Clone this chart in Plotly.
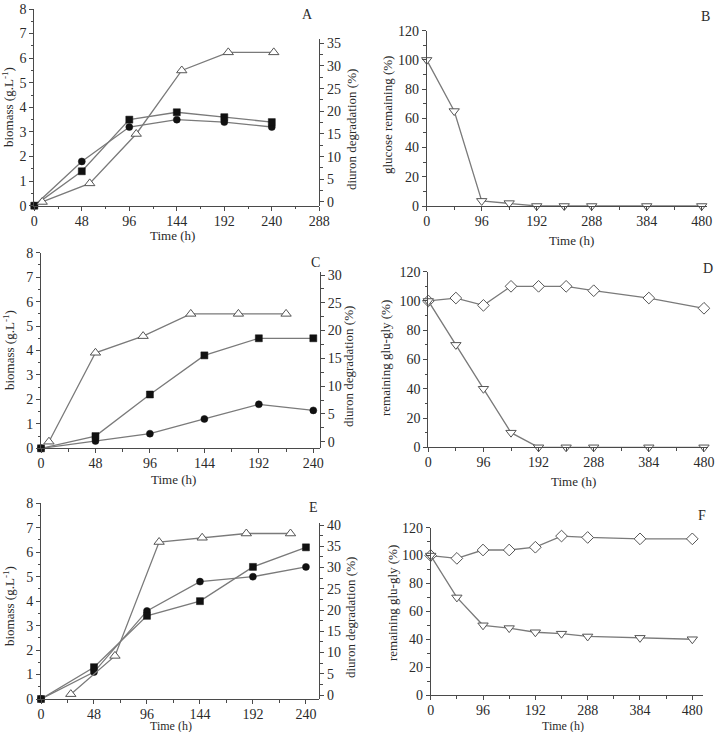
import plotly.graph_objects as go

# ---------------- data ----------------
t6 = [0, 48, 96, 144, 192, 240]
t9 = [0, 48, 96, 144, 192, 240, 288, 384, 480]

# Panel A
A_circle = [0, 1.8, 3.2, 3.5, 3.4, 3.2]
A_square = [0, 1.4, 3.5, 3.8, 3.6, 3.4]
A_tri_time = [8, 56, 103, 149, 196, 242]
A_tri = [0, 4.1, 15, 29, 33, 33]

# Panel B
B_glucose = [100, 65, 3.5, 2, 0, 0, 0, 0, 0]

# Panel C
C_square = [0, 0.5, 2.2, 3.8, 4.5, 4.5]
C_circle = [0, 0.3, 0.6, 1.2, 1.8, 1.55]
C_tri_time = [7, 48, 90, 132, 174, 216]
C_tri = [0, 16, 19, 23, 23, 23]

# Panel D
D_diamond = [100, 102, 97, 110, 110, 110, 107, 102, 95]
D_tri = [100, 70, 40, 10, 0, 0, 0, 0, 0]

# Panel E
E_square = [0, 1.3, 3.4, 4.0, 5.4, 6.2]
E_circle = [0, 1.1, 3.6, 4.8, 5.0, 5.4]
E_tri_time = [27, 67, 107, 146, 186, 226]
E_tri = [0.2, 9.2, 36, 37, 38, 38]

# Panel F
F_diamond = [100, 98, 104, 104, 106, 114, 113, 112, 112]
F_tri = [100, 70, 50, 48, 45, 44, 42, 41, 40]

# ---------------- style ----------------
W, H = 717, 732
FONT = "Liberation Serif"
LINE = "#7a7a7a"
AX = "#4a4a4a"
TXT = "#2a2a2a"


def fx(px):
    return px / W


def fy(py):
    return 1 - py / H


fig = go.Figure()


def add(x, y, xa, ya, symbol, filled, size):
    if filled:
        marker = dict(symbol=symbol, size=size, color="#111111",
                      line=dict(color="#111111", width=0.5))
    else:
        marker = dict(symbol=symbol, size=size, color="white",
                      line=dict(color="#555555", width=1))
    fig.add_trace(go.Scatter(x=x, y=y, xaxis=xa, yaxis=ya, mode="lines+markers",
                             line=dict(color=LINE, width=1.3), marker=marker,
                             cliponaxis=False, showlegend=False, hoverinfo="skip"))


# A
add(t6, A_circle, "x", "y", "circle", True, 7)
add(t6, A_square, "x", "y", "square", True, 7)
add(A_tri_time, A_tri, "x", "y7", "triangle-up", False, 9)
# B
add(t9, B_glucose, "x2", "y2", "triangle-down", False, 9)
# C
add(t6, C_circle, "x3", "y3", "circle", True, 7)
add(t6, C_square, "x3", "y3", "square", True, 7)
add(C_tri_time, C_tri, "x3", "y8", "triangle-up", False, 9)
# D
add(t9, D_diamond, "x4", "y4", "diamond", False, 9)
add(t9, D_tri, "x4", "y4", "triangle-down", False, 9)
# E
add(t6, E_circle, "x5", "y5", "circle", True, 7)
add(t6, E_square, "x5", "y5", "square", True, 7)
add(E_tri_time, E_tri, "x5", "y9", "triangle-up", False, 9)
# F
add(t9, F_diamond, "x6", "y6", "diamond", False, 9)
add(t9, F_tri, "x6", "y6", "triangle-down", False, 9)


def axis_common(dtick, minor, **kw):
    d = dict(showline=True, linecolor=AX, linewidth=1, showgrid=False, zeroline=False,
             ticks="outside", ticklen=4, tickwidth=1, tickcolor=AX,
             tickfont=dict(family=FONT, size=14, color=TXT), dtick=dtick, tick0=0,
             minor=dict(ticks="outside", ticklen=2.5, tickwidth=1, tickcolor=AX, dtick=minor),
             fixedrange=True, automargin=False)
    d.update(kw)
    return d


def xaxis(dtick, minor, **kw):
    return axis_common(dtick, minor, ticklabelstandoff=-2, **kw)


lay = {}
# A
lay["xaxis"] = xaxis(48, 24, domain=[fx(34.3), fx(319.3)], range=[0, 288], anchor="y")
lay["yaxis"] = axis_common(1, 0.5, domain=[fy(205.7), fy(9)], range=[0, 8], anchor="x")
lay["yaxis7"] = axis_common(5, 2.5, domain=[fy(205.7), fy(39.3)], range=[-0.82, 35.88],
                            anchor="x", side="right")
# B
lay["xaxis2"] = xaxis(96, 48, domain=[fx(426.7), fx(706.7)], range=[0, 488.7], anchor="y2")
lay["yaxis2"] = axis_common(20, 10, domain=[fy(206), fy(30.7)], range=[0, 120], anchor="x2")
# C
lay["xaxis3"] = xaxis(48, 24, domain=[fx(41), fx(320)], range=[0, 245.9], anchor="y3")
lay["yaxis3"] = axis_common(1, 0.5, domain=[fy(448.3), fy(252.7)], range=[0, 8], anchor="x3")
lay["yaxis8"] = axis_common(5, 2.5, domain=[fy(448.3), fy(272)], range=[-1.19, 30.54],
                            anchor="x3", side="right")
# D
lay["xaxis4"] = xaxis(96, 48, domain=[fx(428.3), fx(708)], range=[0, 487], anchor="y4")
lay["yaxis4"] = axis_common(20, 10, domain=[fy(447.3), fy(271.7)], range=[0, 120], anchor="x4")
# E
lay["xaxis5"] = xaxis(48, 24, domain=[fx(41), fx(319.3)], range=[0, 252.1], anchor="y5")
lay["yaxis5"] = axis_common(1, 0.5, domain=[fy(699), fy(503.3)], range=[0, 8], anchor="x5")
lay["yaxis9"] = axis_common(5, 2.5, domain=[fy(699), fy(523)], range=[-0.94, 40.47],
                            anchor="x5", side="right")
# F
lay["xaxis6"] = xaxis(96, 48, domain=[fx(430.7), fx(703)], range=[0, 499.6], anchor="y6")
lay["yaxis6"] = axis_common(20, 10, domain=[fy(695), fy(527.7)], range=[0, 120], anchor="x6")

fig.update_layout(**lay)

ann = []


def text(s, px, py, size=13, angle=0):
    ann.append(dict(text=s, x=fx(px), y=fy(py), xref="paper", yref="paper",
                    showarrow=False, textangle=angle, xanchor="center", yanchor="middle",
                    font=dict(family=FONT, size=size, color=TXT)))


# panel letters
text("A", 307, 15, 14)
text("B", 705, 16, 14)
text("C", 315, 262, 14)
text("D", 708, 268, 14)
text("E", 313, 507, 14)
text("F", 702, 515, 14)

# x titles
text("Time (h)", 172, 235)
text("Time (h)", 571, 241)
text("Time (h)", 173, 480)
text("Time (h)", 573, 481)
text("Time (h)", 171, 726, 12)
text("Time (h)", 563, 726, 12)

# left y titles
bio = "biomass (g.L<sup>-1</sup>)"
text(bio, 8, 107, 13, -90)
text(bio, 9, 350, 13, -90)
text(bio, 9, 606, 13, -90)
text("glucose remaining (%)", 387, 115, 13, -90)
text("remaining glu-gly (%)", 385, 358, 13, -90)
text("remaining glu-gly (%)", 392, 603, 13, -90)

# right y titles
dd = "diuron degradation (%)"
text(dd, 352, 130, 13, -90)
text(dd, 349, 367, 13, -90)
text(dd, 350, 618, 13, -90)

fig.update_layout(annotations=ann, width=W, height=H,
                  margin=dict(l=0, r=0, t=0, b=0),
                  paper_bgcolor="white", plot_bgcolor="rgba(0,0,0,0)", showlegend=False)

fig.write_html("out.html", config={"displayModeBar": False},
               post_script="document.body.style.margin='0';document.body.style.overflow='hidden';")
